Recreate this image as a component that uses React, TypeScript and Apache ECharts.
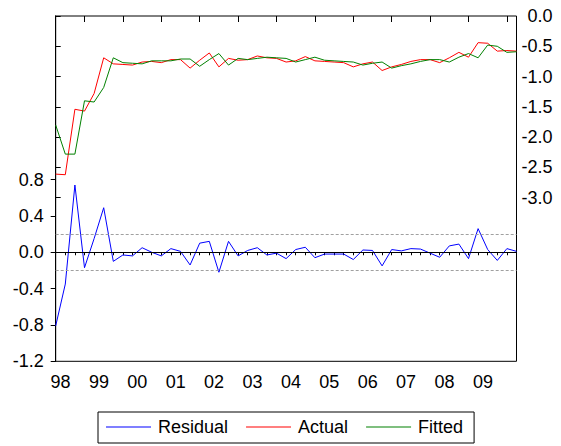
import React, { useEffect, useRef } from "react";
import * as echarts from "echarts";

// Quarterly observations 1998Q2 .. 2010Q2 (49 points)
const quarters: string[] = [];
for (let y = 1998; y <= 2010; y++) {
  for (let q = 1; q <= 4; q++) {
    if ((y === 1998 && q === 1) || (y === 2010 && q > 2)) continue;
    quarters.push(`${y}Q${q}`);
  }
}

const residual = [
  -0.81, -0.35, 0.74, -0.17, 0.15, 0.49, -0.10, -0.03, -0.04, 0.05,
  0.00, -0.04, 0.04, 0.01, -0.14, 0.10, 0.12, -0.22, 0.12, -0.04,
  0.02, 0.05, -0.03, -0.01, -0.07, 0.03, 0.055, -0.06, -0.02, -0.02,
  -0.02, -0.08, 0.025, 0.02, -0.15, 0.03, 0.015, 0.04, 0.035, -0.01,
  -0.055, 0.07, 0.09, -0.07, 0.26, 0.03, -0.09, 0.04, 0.01,
];

const actual = [
  -2.61, -2.62, -1.54, -1.57, -1.28, -0.69, -0.79, -0.80, -0.81, -0.76,
  -0.75, -0.77, -0.72, -0.72, -0.86, -0.73, -0.61, -0.84, -0.70, -0.73,
  -0.72, -0.66, -0.69, -0.70, -0.76, -0.74, -0.67, -0.74, -0.75, -0.76,
  -0.77, -0.84, -0.79, -0.76, -0.90, -0.84, -0.80, -0.75, -0.72, -0.72,
  -0.77, -0.69, -0.60, -0.68, -0.44, -0.45, -0.58, -0.57, -0.58,
];

const fitted = [
  -1.80, -2.28, -2.28, -1.40, -1.42, -1.18, -0.69, -0.77, -0.78, -0.79,
  -0.74, -0.74, -0.74, -0.71, -0.71, -0.83, -0.72, -0.62, -0.81, -0.70,
  -0.72, -0.70, -0.68, -0.69, -0.70, -0.76, -0.72, -0.68, -0.73, -0.74,
  -0.75, -0.76, -0.81, -0.78, -0.76, -0.86, -0.82, -0.79, -0.75, -0.72,
  -0.72, -0.76, -0.68, -0.62, -0.69, -0.48, -0.50, -0.60, -0.59,
];

const yearLabels = ["98", "99", "00", "01", "02", "03", "04", "05", "06", "07", "08", "09"];
const leftTicks = [-1.2, -0.8, -0.4, 0.0, 0.4, 0.8];
const rightTicks = [-3.0, -2.5, -2.0, -1.5, -1.0, -0.5, 0.0];
const bandLevels = [0.2, -0.2];

const FONT = "'Liberation Sans', Arial, sans-serif";
const LINE_ICON = "path://M0,0H45V1.2H0Z";

export default function App() {
  const ref = useRef<HTMLDivElement>(null);

  useEffect(() => {
    if (!ref.current) return;
    const chart = echarts.init(ref.current, undefined, { renderer: "svg" });

    const n = quarters.length;
    const idx = quarters.map((_, i) => i);
    const q1Idx = idx.filter((i) => quarters[i].endsWith("Q1"));
    const labelPos = yearLabels.map((_, k) => q1Idx[0] - 4 + 4 * k + 1.5);

    const toPairs = (arr: number[]) => arr.map((v, i) => [i, v]);

    const option: any = {
      animation: false,
      backgroundColor: "#fff",
      grid: {
        left: 55.7,
        right: 44.5,
        top: 16,
        bottom: 84.7,
        show: true,
        borderColor: "#000",
        borderWidth: 1,
        backgroundColor: "transparent",
      },
      legend: {
        left: 98,
        top: 412,
        padding: [6, 11, 7, 8],
        itemGap: 18,
        itemWidth: 45,
        itemHeight: 18,
        borderColor: "#000",
        borderWidth: 1,
        textStyle: { fontSize: 18, fontFamily: FONT, color: "#000", padding: [0, 0, 0, 2] },
        data: [
          { name: "Residual", icon: LINE_ICON },
          { name: "Actual", icon: LINE_ICON },
          { name: "Fitted", icon: LINE_ICON },
        ],
      },
      xAxis: [
        {
          type: "value",
          min: 0,
          max: n - 1,
          splitLine: { show: false },
          axisLine: { show: true, lineStyle: { color: "#000", width: 1 } },
          axisTick: {
            show: true,
            customValues: idx,
            length: 3,
            lineStyle: { color: "#000", width: 1 },
          },
          axisLabel: {
            show: true,
            customValues: labelPos,
            margin: 12,
            fontSize: 18,
            fontFamily: FONT,
            color: "#000",
            formatter: (v: number) => {
              const k = Math.round((v - labelPos[0]) / 4);
              return yearLabels[k] ?? "";
            },
          },
        },
        {
          type: "value",
          min: 0,
          max: n - 1,
          position: "bottom",
          splitLine: { show: false },
          axisLine: { show: false },
          axisTick: {
            show: true,
            customValues: q1Idx,
            length: 6,
            lineStyle: { color: "#000", width: 1 },
          },
          axisLabel: { show: false },
        },
      ],
      yAxis: [
        {
          type: "value",
          min: -1.2,
          max: 2.6,
          position: "left",
          splitLine: { show: false },
          axisLine: { show: true, lineStyle: { color: "#000", width: 1 } },
          axisTick: {
            show: true,
            customValues: leftTicks,
            length: 5,
            lineStyle: { color: "#000" },
          },
          axisLabel: {
            customValues: leftTicks,
            margin: 12,
            fontSize: 18,
            fontFamily: FONT,
            color: "#000",
            formatter: (v: number) => v.toFixed(1),
          },
        },
        {
          type: "value",
          min: -5.7,
          max: 0,
          position: "right",
          splitLine: { show: false },
          axisLine: { show: true, lineStyle: { color: "#000", width: 1 } },
          axisTick: {
            show: true,
            customValues: rightTicks,
            length: 5,
            lineStyle: { color: "#000" },
          },
          axisLabel: {
            customValues: rightTicks,
            margin: 36,
            align: "right",
            fontSize: 18,
            fontFamily: FONT,
            color: "#000",
            formatter: (v: number) => v.toFixed(1),
          },
        },
      ],
      series: [
        {
          name: "Residual",
          type: "line",
          xAxisIndex: 0,
          yAxisIndex: 0,
          data: toPairs(residual),
          symbol: "none",
          lineStyle: { color: "#0000ff", width: 1 },
          itemStyle: { color: "#0000ff" },
          markLine: {
            silent: true,
            symbol: "none",
            label: { show: false },
            data: [
              { yAxis: 0, lineStyle: { color: "#000", type: "solid", width: 1 } },
              ...bandLevels.map((b) => ({
                yAxis: b,
                lineStyle: { color: "#a0a0a0", type: [3, 2], width: 1 },
              })),
            ],
          },
          z: 2,
        },
        {
          name: "Actual",
          type: "line",
          xAxisIndex: 0,
          yAxisIndex: 1,
          data: toPairs(actual),
          symbol: "none",
          lineStyle: { color: "#ff0000", width: 1 },
          itemStyle: { color: "#ff0000" },
          z: 3,
        },
        {
          name: "Fitted",
          type: "line",
          xAxisIndex: 0,
          yAxisIndex: 1,
          data: toPairs(fitted),
          symbol: "none",
          lineStyle: { color: "#008000", width: 1 },
          itemStyle: { color: "#008000" },
          z: 4,
        },
      ],
    };

    chart.setOption(option);
    return () => chart.dispose();
  }, []);

  return (
    <div
      ref={ref}
      style={{ position: "fixed", left: 0, top: 0, width: 561, height: 446, background: "#fff" }}
    />
  );
}
